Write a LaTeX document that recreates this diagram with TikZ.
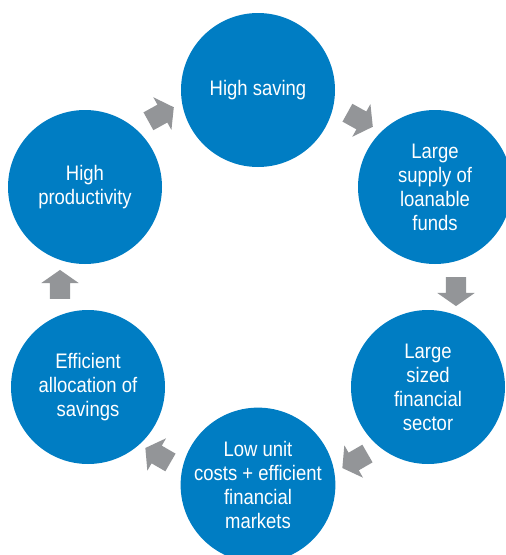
\documentclass[tikz,border=0pt]{standalone}
\usepackage{fontspec}
\setmainfont{Liberation Sans}[FakeStretch=0.88]
\usetikzlibrary{shapes,arrows,positioning}
\definecolor{cblue}{RGB}{0,125,195}
\definecolor{agray}{RGB}{147,149,152}

\begin{document}
\begin{tikzpicture}[x=1pt,y=1pt,% styles for all nodes
			every node/.style={
				align=center,		% so that "\\" breaks the line
				font=\fontsize{21}{24}\selectfont
			},
			stage/.style={circle,fill=cblue,text=white,minimum size=154pt,inner sep=0pt},
			flow/.style={single arrow,fill=agray,minimum height=29pt,minimum width=0pt,
				inner xsep=0pt,inner ysep=10pt,single arrow head extend=8.5pt,
				single arrow tip angle=110,single arrow head indent=0pt}
		]
		\clip (0,0) rectangle (506,-555);
		\useasboundingbox (0,0) rectangle (506,-555);
		% the six stages
		\node[stage](C1) at (258,-90){High saving};
		\node[stage](C2) at (435,-187){Large\\supply of\\loanable\\funds};
		\node[stage](C3) at (428,-387){Large\\sized\\financial\\sector};
		\node[stage](C4) at (258,-485){Low unit\\costs + efficient\\financial\\markets};
		\node[stage](C5) at (88,-387){Efficient\\allocation of\\savings};
		\node[stage](C6) at (85,-187){High\\productivity};
		% block arrows between them
		\node[flow,rotate=-29](A1) at (357,-118){};
		\node[flow,rotate=-90](A2) at (456,-288){};
		\node[flow,rotate=210](A3) at (358,-459){};
		\node[flow,rotate=150](A4) at (161,-457){};
		\node[flow,rotate=90](A5) at (60,-288){};
		\node[flow,rotate=29](A6) at (158,-116){};
	\end{tikzpicture}
\end{document}
